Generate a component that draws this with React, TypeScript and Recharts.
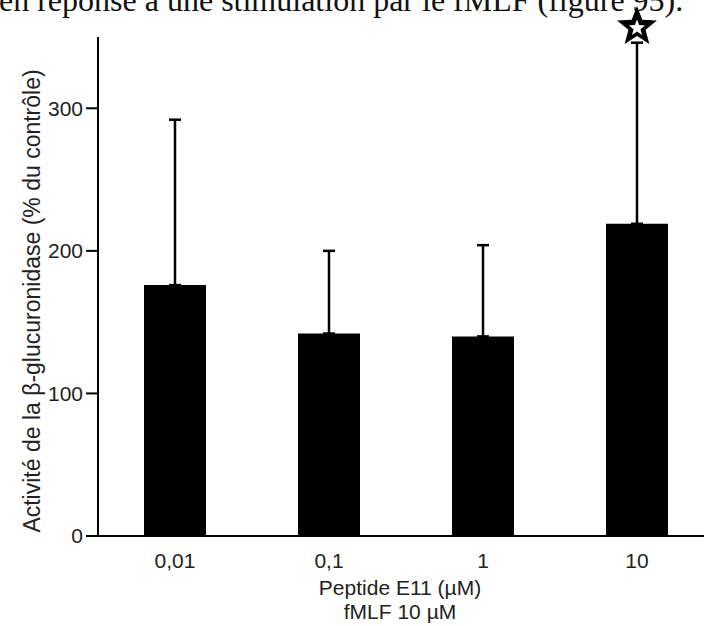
import { Bar, BarChart, ErrorBar, ReferenceDot, XAxis, YAxis } from "recharts";

const doses = ["0,01", "0,1", "1", "10"];
const activite = [176, 142, 140, 219];
const ecartHaut = [116, 58, 64, 127];
const yTicks = [0, 100, 200, 300];
const etoile = { dose: "10", valeur: 357 };

const data = doses.map((d, i) => ({ dose: d, activite: activite[i], err: [0, ecartHaut[i]] }));

const FONT = "'Liberation Sans', Arial, sans-serif";

function starPoints(cx: number, cy: number, R: number, r: number) {
  const pts: string[] = [];
  for (let i = 0; i < 10; i++) {
    const a = -Math.PI / 2 + (i * Math.PI) / 5;
    const rad = i % 2 === 0 ? R : r;
    pts.push(`${cx + rad * Math.cos(a)},${cy + rad * Math.sin(a)}`);
  }
  return pts.join(" ");
}

function Star(props: any) {
  const { cx, cy } = props;
  return (
    <g>
      <polygon points={starPoints(cx, cy, 21, 9)} fill="#000" />
      <polygon points={starPoints(cx, cy + 1, 8.5, 3.6)} fill="#fff" />
    </g>
  );
}

function XTitle(props: any) {
  const { x, y, width } = props.viewBox;
  const cx = x + width / 2 - 6;
  return (
    <text x={cx} y={y + 59} textAnchor="middle" fontFamily={FONT} fontSize={21} fill="#222">
      <tspan x={cx}>Peptide E11 (µM)</tspan>
      <tspan x={cx} dy={24}>fMLF 10 µM</tspan>
    </text>
  );
}

function YTitle() {
  return (
    <text
      x={32}
      y={301}
      transform="rotate(-90 32 301)"
      textAnchor="middle"
      dominantBaseline="central"
      fontFamily={FONT}
      fontSize={23}
      fill="#222"
    >
      Activité de la β-glucuronidase (% du contrôle)
    </text>
  );
}

export default function App() {
  return (
    <div style={{ position: "absolute", left: 0, top: 0, width: 704, height: 626, overflow: "hidden", background: "#fff" }}>
      <div
        style={{
          position: "absolute",
          left: -1,
          top: -16,
          fontFamily: "'Liberation Serif', 'Times New Roman', serif",
          fontSize: 32,
          lineHeight: "32px",
          whiteSpace: "nowrap",
          color: "#111",
        }}
      >
        en réponse à une stimulation par le fMLF (figure 95).
      </div>
      <BarChart width={720} height={626} data={data} margin={{ top: 37, right: 6, left: 0, bottom: 0 }}>
        <XAxis
          dataKey="dose"
          height={90}
          axisLine={{ stroke: "#000", strokeWidth: 2 }}
          tickLine={false}
          tickSize={10}
          tickMargin={7}
          tick={{ fontFamily: FONT, fontSize: 21, fill: "#222" }}
          label={<XTitle />}
        />
        <YAxis
          width={98}
          domain={[0, 350]}
          ticks={yTicks}
          allowDataOverflow
          axisLine={{ stroke: "#000", strokeWidth: 2 }}
          tickLine={{ stroke: "#000", strokeWidth: 2 }}
          tickSize={12}
          tickMargin={3}
          tick={{ fontFamily: FONT, fontSize: 21, fill: "#222" }}
          label={<YTitle />}
        />
        <Bar dataKey="activite" fill="#000" barSize={62} isAnimationActive={false}>
          <ErrorBar dataKey="err" width={6} stroke="#000" strokeWidth={2.5} direction="y" isAnimationActive={false} />
        </Bar>
        <ReferenceDot x={etoile.dose} y={etoile.valeur} ifOverflow="visible" shape={<Star />} />
      </BarChart>
    </div>
  );
}
